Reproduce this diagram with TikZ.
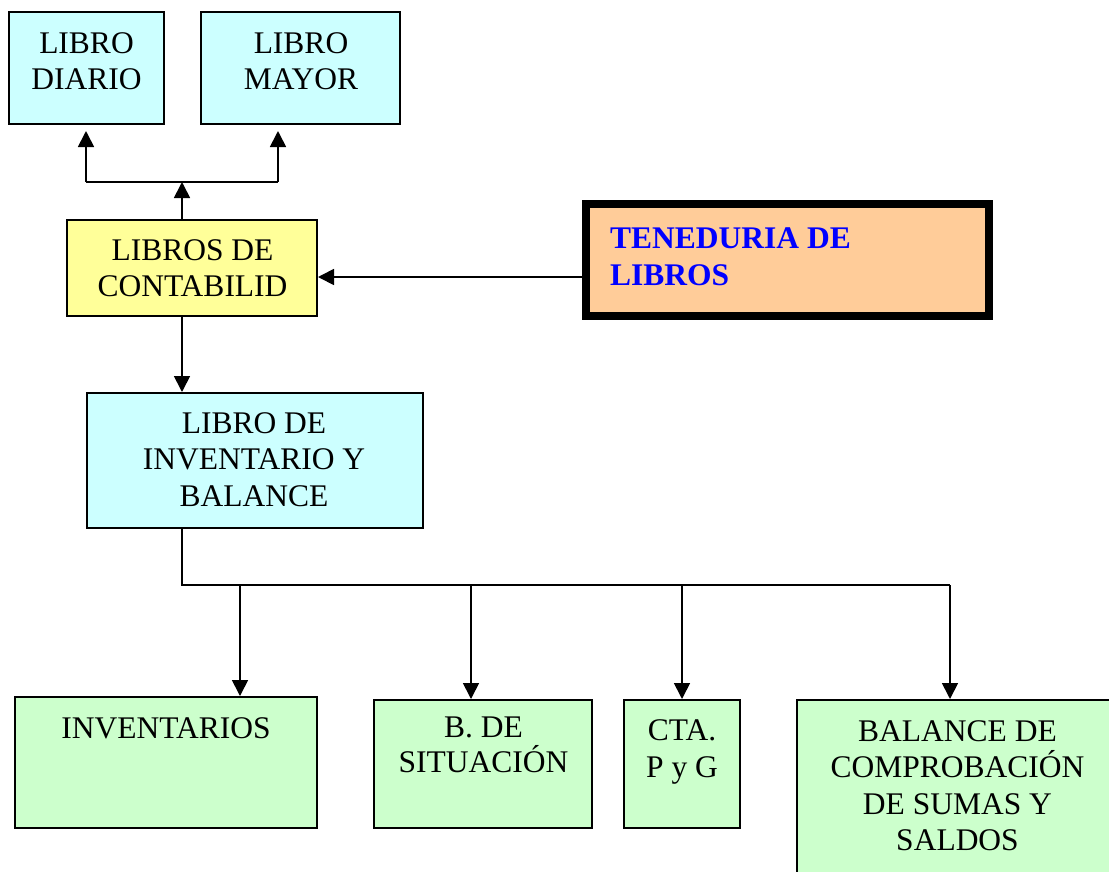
\documentclass[tikz,border=0pt]{standalone}
\usepackage{fontspec}
\setmainfont{Liberation Serif}
\usetikzlibrary{arrows.meta}
\definecolor{cyanbox}{HTML}{CCFFFF}
\definecolor{yellowbox}{HTML}{FFFF99}
\definecolor{peachbox}{HTML}{FFCC99}
\definecolor{greenbox}{HTML}{CCFFCC}
\definecolor{bluetext}{HTML}{0000FF}
\newcommand\tstr{\rule{0pt}{30pt}}
\tikzset{
  box/.style={draw=black, line width=2pt, rectangle, inner sep=0pt},
  txt/.style={inner sep=0pt, align=center, anchor=north, font=\fontsize{31.5pt}{36.5pt}\selectfont},
  arr/.style={line width=1.7pt, -{Triangle[width=16pt,length=16pt]}},
  ln/.style={line width=1.7pt}
}
\begin{document}
\begin{tikzpicture}[x=1pt,y=-1pt]
\clip (0,0) rectangle (1109,871);
\fill[white] (0,0) rectangle (1109,871);
% boxes
\node[box, fill=cyanbox, minimum width=155pt, minimum height=112pt] (diario) at (86.5,68) {};
\node[box, fill=cyanbox, minimum width=199pt, minimum height=112pt] (mayor) at (300.5,68) {};
\node[box, fill=yellowbox, minimum width=250pt, minimum height=96pt] (cont) at (192,268) {};
\node[draw=black, line width=8pt, fill=peachbox, inner sep=0pt, minimum width=403pt, minimum height=112pt] (ten) at (787.5,260) {};
\node[box, fill=cyanbox, minimum width=336pt, minimum height=135pt] (inv) at (255,460.5) {};
\node[box, fill=greenbox, minimum width=302pt, minimum height=131pt] (invs) at (166,762.5) {};
\node[box, fill=greenbox, minimum width=218pt, minimum height=128pt] (sit) at (483,764) {};
\node[box, fill=greenbox, minimum width=116pt, minimum height=128pt] (cta) at (682,764) {};
\node[box, fill=greenbox, minimum width=403pt, minimum height=300pt] (bal) at (998.5,850) {};
% texts
\node[txt] (diario-t) at (86.5,23) {\tstr LIBRO\\DIARIO};
\node[txt] (mayor-t) at (301,23) {\tstr LIBRO\\MAYOR};
\node[txt] (cont-t) at (192.5,230) {\tstr LIBROS DE\\CONTABILID};
\node[txt, align=left, anchor=north west, font=\fontsize{31.5pt}{37pt}\selectfont\bfseries, text=bluetext] (ten-t) at (610,218) {\tstr TENEDURIA DE\\LIBROS};
\node[txt] (inv-t) at (254,403) {\tstr LIBRO DE\\INVENTARIO Y\\BALANCE};
\node[txt] (invs-t) at (166,708) {\tstr INVENTARIOS};
\node[txt, font=\fontsize{31.5pt}{35.5pt}\selectfont] (sit-t) at (483.5,707) {\tstr B. DE\\SITUACIÓN};
\node[txt, font=\fontsize{31.5pt}{37pt}\selectfont] (cta-t) at (682,710) {\tstr CTA.\\P y G};
\node[txt] (bal-t) at (957.5,711) {\tstr BALANCE DE\\COMPROBACIÓN\\DE SUMAS Y\\SALDOS};
% upper connectors
\coordinate (j1) at (182,182);
\coordinate (jd) at (86,182);
\coordinate (jm) at (278,182);
\draw[arr] (cont.north -| j1) -- (j1);
\draw[ln] (jd) -- (jm);
\draw[arr, shorten >=6pt] (jd) -- (jd |- diario.south);
\draw[arr, shorten >=6pt] (jm) -- (jm |- mayor.south);
\draw[arr] ([yshift=-17pt]ten.west) coordinate (t1) -- (t1 -| cont.east);
\draw[arr] (cont.south -| j1) -- (inv.north -| j1);
% lower tree
\coordinate (b0) at (182,585);
\coordinate (b1) at (240,585);
\coordinate (b2) at (471,585);
\coordinate (b3) at (682,585);
\coordinate (b4) at (950,585);
\draw[ln] (inv.south -| b0) -- (b0) -- (b4);
\draw[arr] (b1) -- (b1 |- invs.north);
\draw[arr] (b2) -- (b2 |- sit.north);
\draw[arr] (b3) -- (b3 |- cta.north);
\draw[arr] (b4) -- (b4 |- bal.north);
\end{tikzpicture}
\end{document}
